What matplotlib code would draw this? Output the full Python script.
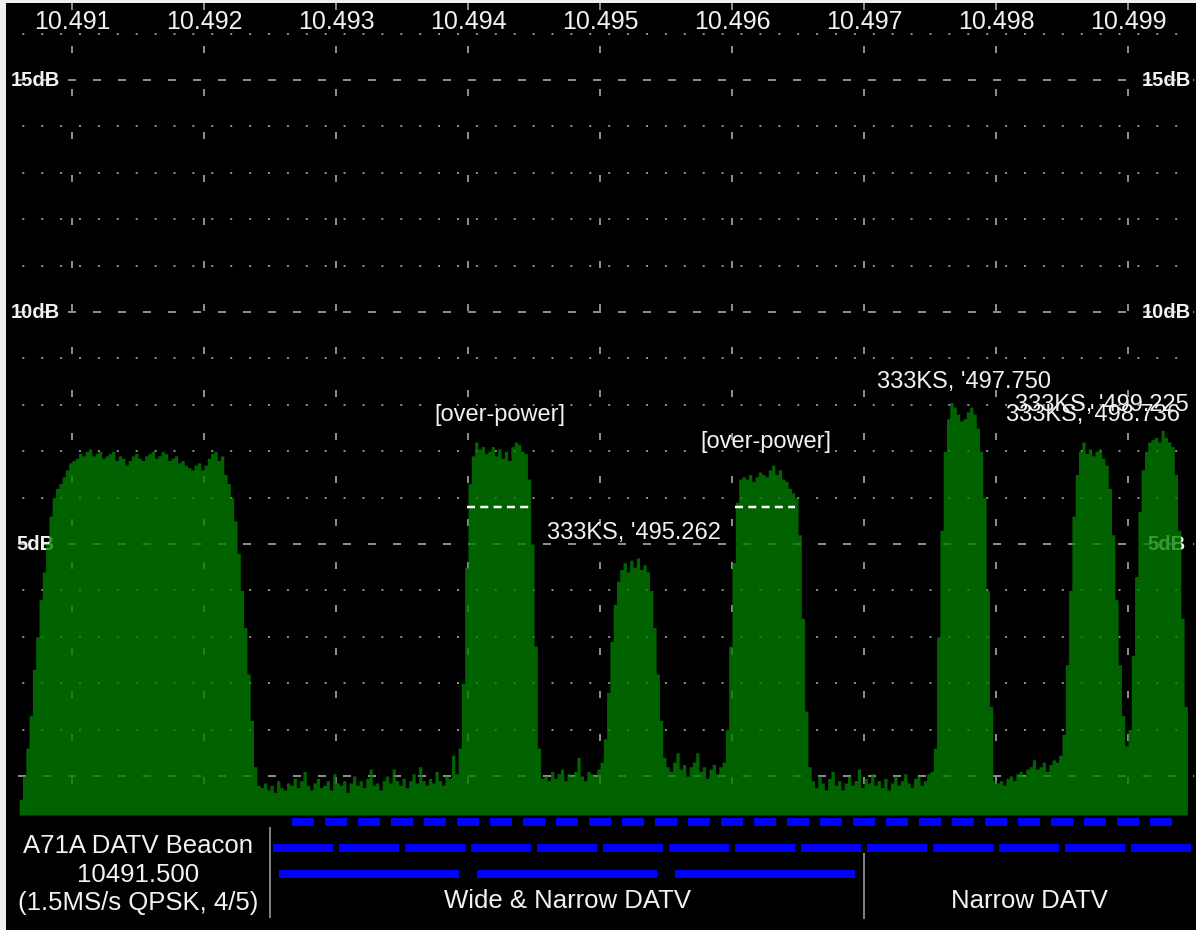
import numpy as np
import matplotlib.pyplot as plt
from matplotlib.patches import Rectangle

plt.rcParams['font.family'] = ['Liberation Sans', 'DejaVu Sans']
plt.rcParams['lines.scale_dashes'] = False

# spectrum: level in dB for each 25 kHz bin, first bin starts at 10490.600 MHz
bin_start = 10490.600
bin_width = 0.025
level_db = [
    # beacon, rising edge
    -0.5, 0.0, 0.6, 1.3, 2.3, 3.0, 3.8, 4.4, 5.0, 5.6, 6.0, 6.2, 6.3, 6.45, 6.6, 6.75, 6.8,
    # beacon, top
    6.85, 6.95, 6.9, 7.0, 7.05, 6.9, 6.95, 7.0, 6.85, 6.9,
    6.95, 7.0, 6.8, 6.9, 6.85, 6.7, 6.8, 6.9, 6.95, 6.85,
    6.8, 6.9, 6.95, 7.0, 6.85, 6.9, 7.0, 6.95, 6.8, 6.85,
    6.9, 6.75, 6.8, 6.7, 6.65, 6.6, 6.7, 6.75, 6.6, 6.7,
    6.85, 6.95, 7.0, 6.8, 6.9,
    # beacon, falling edge
    6.5, 6.3, 6.0, 5.5, 4.8, 4.0, 3.2, 2.2, 1.2, 0.2, -0.2,
    # noise floor
    -0.25, -0.15, -0.3, -0.2, -0.35, -0.1, -0.25, -0.3, -0.15, -0.2,
    -0.05, -0.25, -0.1, 0.1, -0.2, -0.3, -0.15, -0.05, -0.25, -0.2,
    -0.1, -0.3, 0.05, -0.15, -0.2, -0.1, -0.35, -0.15, 0.0, -0.2,
    -0.1, -0.25, -0.05, 0.15, -0.2, -0.15, -0.3, -0.1, 0.0, -0.15,
    0.15, -0.1, -0.2, -0.05, -0.25, -0.1, 0.05, -0.15, 0.2, -0.1,
    -0.2, -0.05, -0.15, 0.1, -0.1, -0.2, 0.0, -0.05, 0.45, 0.05,
    # 10494.25
    0.6, 2.0, 4.5, 6.3, 6.9,
    7.2, 7.05, 7.1, 6.95, 7.0, 7.1, 6.9, 7.05, 6.85, 7.0, 6.8, 7.1, 7.2, 7.15, 7.0, 6.95,
    6.4, 5.0, 2.8, 0.6, -0.05,
    # noise floor
    0.0, -0.1, 0.1, -0.05, 0.05, 0.15, -0.1, 0.05, 0.0, 0.1, 0.4, 0.0, -0.1, 0.1, 0.05, 0.0, 0.15,
    # 10495.262
    0.3, 0.8, 1.8, 2.9, 3.7, 4.2,
    4.45, 4.6, 4.4, 4.65, 4.5, 4.7, 4.45, 4.55, 4.4,
    4.0, 3.2, 2.2, 1.2, 0.4,
    # noise floor
    0.2, 0.1, 0.3, 0.5, 0.15, 0.25, 0.0, 0.2, 0.3, 0.5, 0.1, 0.2, -0.05, 0.15, 0.25, 0.05, 0.2, 0.3,
    # 10496.25
    1.0, 2.8, 4.6, 5.9, 6.4,
    6.45, 6.4, 6.5, 6.35, 6.45, 6.55, 6.5, 6.45, 6.6, 6.7, 6.5, 6.6, 6.4, 6.35, 6.2, 6.1,
    6.0, 5.2, 3.4, 1.4, 0.2,
    # noise floor
    -0.1, -0.25, 0.0, -0.15, -0.3, -0.05, 0.1, -0.2, -0.1, -0.3,
    -0.15, 0.0, -0.2, -0.1, 0.15, -0.25, -0.05, -0.15, 0.05, -0.2,
    -0.1, -0.25, -0.05, -0.3, -0.15, 0.0, -0.2, -0.1, 0.05, -0.15,
    -0.25, -0.05, 0.0, -0.2, -0.1, 0.05, 0.1,
    # 10497.750
    0.6, 3.0, 5.3, 7.0,
    7.7, 8.05, 7.95, 7.8, 7.65, 7.7, 7.85, 7.95, 7.8, 7.5,
    7.0, 6.0, 4.0, 1.5, -0.1,
    # noise floor
    -0.15, -0.1, -0.2, -0.05, 0.0, -0.1, 0.05, 0.1, 0.0, 0.15,
    0.2, 0.35, 0.15, 0.2, 0.3, 0.1, 0.25, 0.35, 0.3, 0.45,
    # 10498.736
    0.9, 2.4, 4.0, 5.6, 6.5,
    7.0, 7.2, 6.95, 7.05, 6.9, 7.0, 7.05, 6.85,
    6.7, 6.2, 5.2, 3.8, 2.4, 1.3, 0.65, 1.0,
    # 10499.225
    2.6, 4.3, 5.7, 6.6, 7.0,
    7.2, 7.25, 7.3, 7.2, 7.45, 7.3, 7.2, 7.1,
    6.5, 5.3, 3.4, 1.5,
]

freq_ticks = [10491, 10492, 10493, 10494, 10495, 10496, 10497, 10498, 10499]
db_ticks = [5, 10, 15]
db_minor = [1, 2, 3, 4, 6, 7, 8, 9, 11, 12, 13, 14, 16]

# signal labels: centre frequency, level, text
label_freq = [10494.24, 10496.26, 10495.26, 10497.754, 10498.735, 10498.80]
label_db = [7.78, 7.20, 5.24, 8.49, 7.78, 8.00]
label_text = ['[over-power]', '[over-power]', "333KS, '495.262",
              "333KS, '497.750", "333KS, '498.736", "333KS, '499.225"]

# over-power threshold marks
over_power_db = 5.8
over_power_span = [(10493.99, 10494.46), (10496.02, 10496.48)]

# band plan rows (channel centres, MHz)
narrow_333_centres = [10492.75, 10493.00, 10493.25, 10493.50, 10493.75, 10494.00, 10494.25,
                      10494.50, 10494.75, 10495.00, 10495.25, 10495.50, 10495.75, 10496.00,
                      10496.25, 10496.50, 10496.75, 10497.00, 10497.25, 10497.50, 10497.75,
                      10498.00, 10498.25, 10498.50, 10498.75, 10499.00, 10499.25]
narrow_500_centres = [10492.75, 10493.25, 10493.75, 10494.25, 10494.75, 10495.25, 10495.75,
                      10496.25, 10496.75, 10497.25, 10497.75, 10498.25, 10498.75, 10499.25]
wide_1000_centres = [10493.25, 10494.75, 10496.25]
channel_widths = [0.167, 0.455, 1.36]

beacon_freq = 10491.5
beacon_lines = ['A71A DATV Beacon', '10491.500', '(1.5MS/s QPSK, 4/5)']
section_edges = [10492.5, 10497.0]
section_names = ['Wide & Narrow DATV', 'Narrow DATV']
section_centres = [10494.75, 10498.25]

W, H = 1196, 930
px = 0.72  # one pixel in points at 100 dpi
grid_col = '#8c8c8c'
text_col = '#f2f2f2'

fig = plt.figure(figsize=(W / 100, H / 100), dpi=100, facecolor='#eef0f3')
fig.patches.append(Rectangle((6 / W, 0), 1 - 6 / W, 1 - 3 / H, transform=fig.transFigure,
                             facecolor='black', edgecolor='none', zorder=-10))

# spectrum panel
ax = fig.add_axes([6 / W, 115 / H, 1188 / W, 812 / H])
ax.set_axis_off()
ax.set_xlim(10490.5, 10499.5)
ax.set_ylim(-0.84, 16.66)

for d in db_minor:
    ax.axhline(d, color=grid_col, lw=2 * px, linestyle=(2.6 * px, (2 * px, 16.9 * px)), zorder=1)
for d in [0] + db_ticks:
    ax.axhline(d, color=grid_col, lw=2 * px, linestyle=(13 * px, (8 * px, 17 * px)), zorder=1)
for f in freq_ticks:
    ax.axvline(f, color=grid_col, lw=2 * px, linestyle=(12 * px, (7 * px, 36 * px)), zorder=1)

for f in freq_ticks:
    ax.text(f, 16.25, f'{f / 1000:.3f}', color=text_col, fontsize=18,
            ha='center', va='center', zorder=5)

yax = ax.get_yaxis_transform()
for d in db_ticks:
    ax.text(0.0244, d, f'{d}dB', transform=yax, color=text_col, fontsize=14.5,
            fontweight='bold', ha='center', va='center', zorder=2)
    ax.text(0.9764, d, f'{d}dB', transform=yax, color=text_col, fontsize=14.5,
            fontweight='bold', ha='center', va='center', zorder=2)

edges = bin_start + bin_width * np.arange(len(level_db) + 1)
ax.fill_between(edges, np.append(level_db, level_db[-1]), -0.84, step='post',
                color='#008000', alpha=0.78, lw=0, zorder=3)

for lo, hi in over_power_span:
    ax.plot([lo, hi], [over_power_db, over_power_db], color='white', lw=2.5 * px,
            linestyle=(0, (8 * px, 5.3 * px)), zorder=4)

for f, d, t in zip(label_freq, label_db, label_text):
    ax.text(f, d, t, color=text_col, fontsize=17, ha='center', va='center', zorder=5)

# band plan panel
bx = fig.add_axes([6 / W, 0, 1188 / W, 115 / H])
bx.set_axis_off()
bx.set_xlim(10490.5, 10499.5)
bx.set_ylim(115, 0)

rows = [narrow_333_centres, narrow_500_centres, wide_1000_centres]
row_y = [3, 29, 55]
for centres, width, y in zip(rows, channel_widths, row_y):
    bx.broken_barh([(c - width / 2, width) for c in centres], (y, 8), facecolor='#0000ff')

bx.vlines(section_edges[0], 12, 103, color='#808080', lw=2 * px)
bx.vlines(section_edges[1], 38, 104, color='#808080', lw=2 * px)

for line, y in zip(beacon_lines, [31, 60, 88]):
    bx.text(beacon_freq, y, line, color=text_col, fontsize=18.5, ha='center', va='center')
for name, c in zip(section_names, section_centres):
    bx.text(c, 86, name, color=text_col, fontsize=18.5, ha='center', va='center')

fig.savefig('out.png', dpi=100, facecolor=fig.get_facecolor())
